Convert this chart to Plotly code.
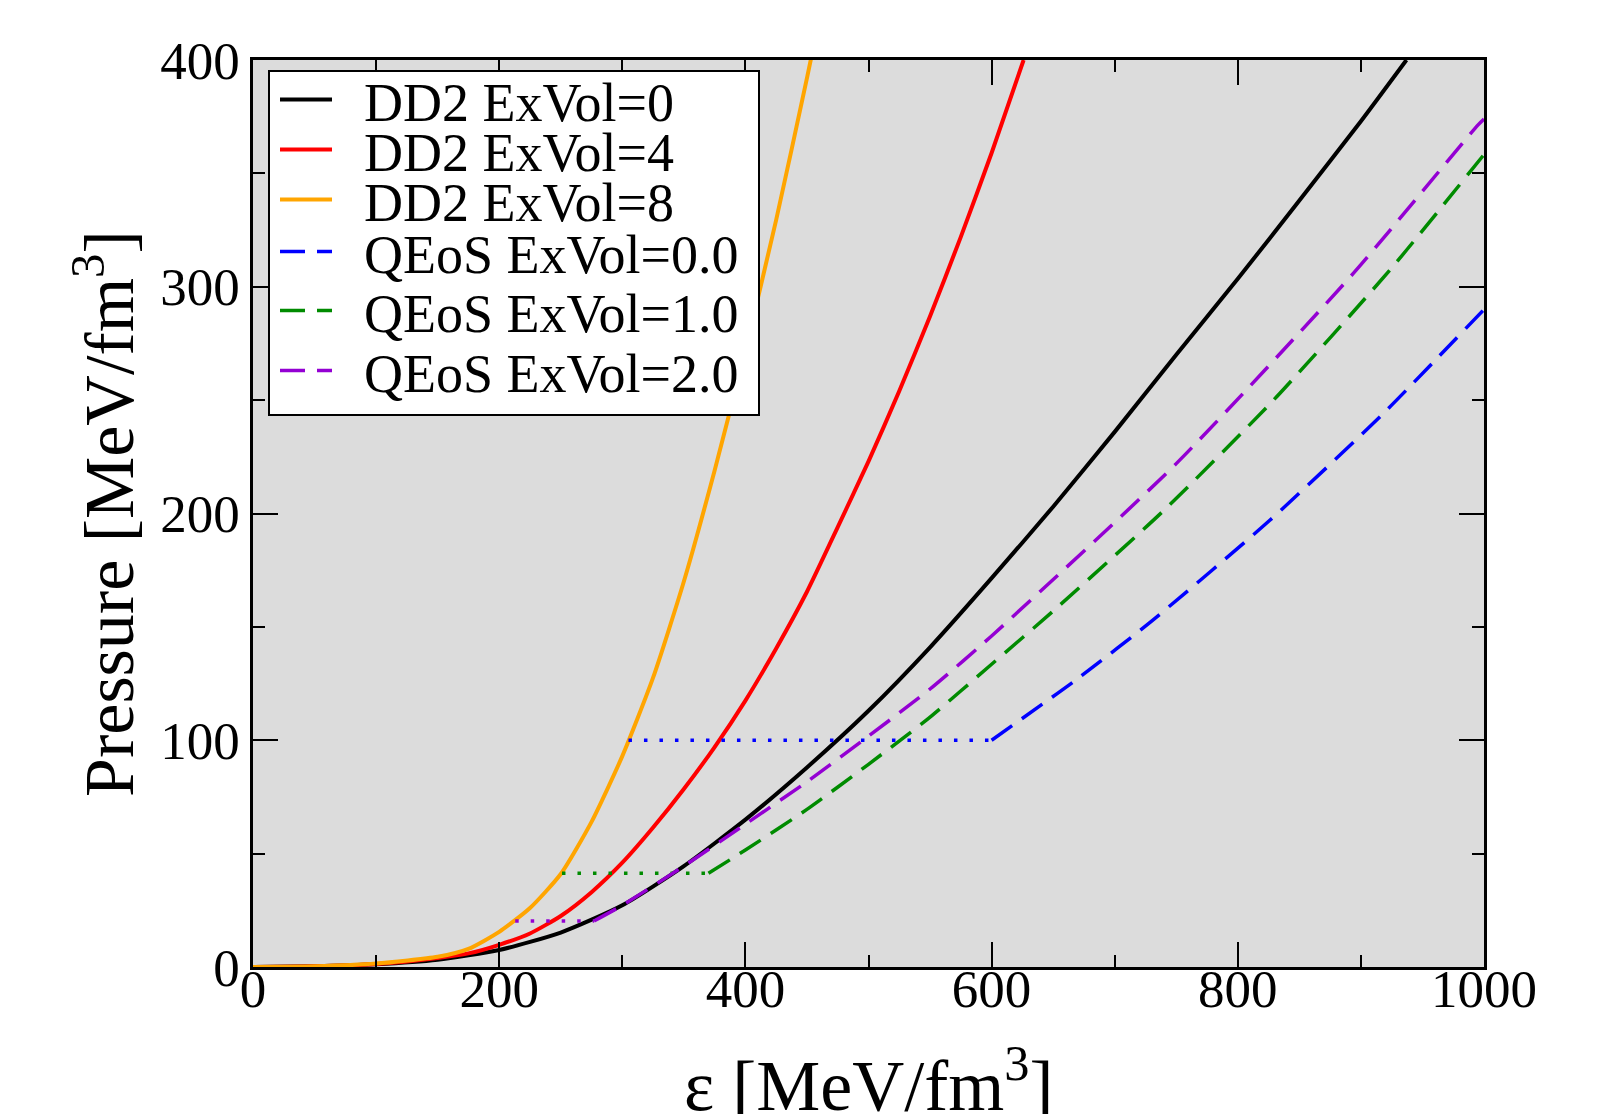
import plotly.graph_objects as go

# ---------------- data ----------------
dd2_0_e = [0, 50, 100, 150, 200, 250, 300, 350, 400, 450, 500, 550, 600, 650, 700, 750, 800, 850, 900, 937]
dd2_0_p = [0, 0.3, 1.2, 3.2, 7.5, 15.2, 27.2, 44.5, 65, 88, 113, 141, 171.5, 203, 236, 270, 303.5, 338, 373, 400]

dd2_4_e = [0, 50, 100, 150, 175, 200, 225, 250, 275, 300, 325, 350, 375, 400, 425, 450, 475, 500, 525, 550, 575, 600, 626]
dd2_4_p = [0, 0.3, 1.3, 4.0, 6.0, 9.8, 14.8, 22.5, 33, 46, 61.5, 78.5, 97, 117.5, 140.5, 165.5, 194, 223, 254, 287, 322, 359, 400]

dd2_8_e = [0, 50, 100, 150, 175, 200, 225, 250, 275, 300, 325, 350, 375, 400, 425, 450, 460]
dd2_8_p = [0, 0.3, 1.5, 4.5, 8, 15.5, 26, 41, 64, 93, 127.6, 170, 219, 272, 329.5, 392, 418]

q0_plateau_e = [305, 600]
q0_plateau_p = [100, 100]
q0_e = [600, 672, 731, 826, 918, 1000]
q0_p = [100, 128, 153, 197, 244, 290]

q1_plateau_e = [251, 370]
q1_plateau_p = [41.3, 41.3]
q1_e = [370, 400, 450, 500, 550, 600, 650, 740, 829, 923.6, 1000]
q1_p = [41.3, 51.6, 69.5, 89.4, 110.2, 133.5, 157, 201.4, 250, 307.4, 358.3]

q2_plateau_e = [213, 277]
q2_plateau_p = [20.3, 20.3]
q2_e = [277, 300, 350, 400, 450, 500, 550, 600, 750, 894, 995, 1000]
q2_p = [20.3, 27.2, 44.5, 63, 81.7, 101.8, 122.6, 146, 222, 306, 371.3, 374]

names = ["DD2 ExVol=0", "DD2 ExVol=4", "DD2 ExVol=8",
         "QEoS ExVol=0.0", "QEoS ExVol=1.0", "QEoS ExVol=2.0"]

x_tick_vals = [0, 200, 400, 600, 800, 1000]
y_tick_vals = [0, 100, 200, 300, 400]
x_title = "ε [MeV/fm<sup>3</sup>]"
y_title = "Pressure [MeV/fm<sup>3</sup>]"

# ---------------- styling ----------------
FONT = "Liberation Serif, Times New Roman, Tinos, Times, serif"
BLACK = "#000000"
RED = "#ff0000"
ORANGE = "#ffa500"
BLUE = "#0000ff"
GREEN = "#008b00"
PURPLE = "#9400d3"
DASH = "25px,12px"
DOT = "3.5px,12px"
PAD = "\u00a0\u00a0"

# page body has an 8 px margin; the figure is sized to sit inside the window
OFF = 8
W, H = 1618 - OFF, 1114 - OFF
ML, MT = 253 - OFF, 60 - OFF
PW, PH = 1231, 907

fig = go.Figure()

solid = [(dd2_0_e, dd2_0_p, BLACK, "legend"),
         (dd2_4_e, dd2_4_p, RED, "legend2"),
         (dd2_8_e, dd2_8_p, ORANGE, "legend3")]
for i, (e, p, c, lg) in enumerate(solid):
    fig.add_trace(go.Scatter(x=e, y=p, mode="lines", name=PAD + names[i],
                             line=dict(color=c, width=4, shape="spline", smoothing=0.6),
                             legend=lg, showlegend=True))

qeos = [(q0_plateau_e, q0_plateau_p, q0_e, q0_p, BLUE, "legend4"),
        (q1_plateau_e, q1_plateau_p, q1_e, q1_p, GREEN, "legend5"),
        (q2_plateau_e, q2_plateau_p, q2_e, q2_p, PURPLE, "legend6")]
for j, (pe, pp, e, p, c, lg) in enumerate(qeos):
    fig.add_trace(go.Scatter(x=pe, y=pp, mode="lines", showlegend=False,
                             line=dict(color=c, width=3.5, dash=DOT), legend=lg))
    fig.add_trace(go.Scatter(x=e, y=p, mode="lines", name=PAD + names[3 + j],
                             line=dict(color=c, width=3.5, dash=DASH, shape="spline", smoothing=0.6),
                             legend=lg, showlegend=True))

axis_common = dict(
    showline=True, linecolor=BLACK, linewidth=2.5, mirror="allticks",
    ticks="inside", ticklen=25, tickwidth=2, tickcolor=BLACK,
    showgrid=False, zeroline=False, automargin=False,
    tickfont=dict(family=FONT, size=53, color=BLACK),
)

fig.update_xaxes(range=[0, 1000], tickvals=x_tick_vals, ticklabelstandoff=-26,
                 minor=dict(dtick=100, ticks="inside", ticklen=12.5, tickwidth=2, tickcolor=BLACK),
                 **axis_common)
fig.update_yaxes(range=[0, 400], tickvals=y_tick_vals,
                 minor=dict(dtick=50, ticks="inside", ticklen=12.5, tickwidth=2, tickcolor=BLACK),
                 title=dict(text=y_title, font=dict(family=FONT, size=70, color=BLACK), standoff=4),
                 **axis_common)

# x-axis title placed low, as in the reference (partly cut by the page edge)
fig.add_annotation(text=x_title, xref="paper", yref="paper", x=0.5, y=-0.073,
                   xanchor="center", yanchor="top", showarrow=False,
                   font=dict(family=FONT, size=72, color=BLACK))

# legend frame (paper coordinates)
fig.add_shape(type="rect", xref="paper", yref="paper",
              x0=(269 - 253) / PW, x1=(759 - 253) / PW,
              y0=(967 - 415) / PH, y1=(967 - 71) / PH,
              fillcolor="white", line=dict(color=BLACK, width=2), layer="above")

row_centers_px = [100, 150, 200, 252, 311, 371]
legend_layout = {}
for k, yc in enumerate(row_centers_px):
    key = "legend" if k == 0 else f"legend{k + 1}"
    legend_layout[key] = dict(
        x=(275 - 253) / PW, xanchor="left",
        y=(967 - yc) / PH, yanchor="middle",
        bgcolor="rgba(0,0,0,0)", borderwidth=0,
        font=dict(family=FONT, size=54, color=BLACK),
        itemwidth=52, tracegroupgap=0,
    )

fig.update_layout(
    width=W, height=H, showlegend=True,
    margin=dict(l=ML, r=W - ML - PW, t=MT, b=H - MT - PH),
    plot_bgcolor="#dcdcdc", paper_bgcolor="white",
    font=dict(family=FONT, color=BLACK),
    **legend_layout,
)

fig.write_html("out.html")
